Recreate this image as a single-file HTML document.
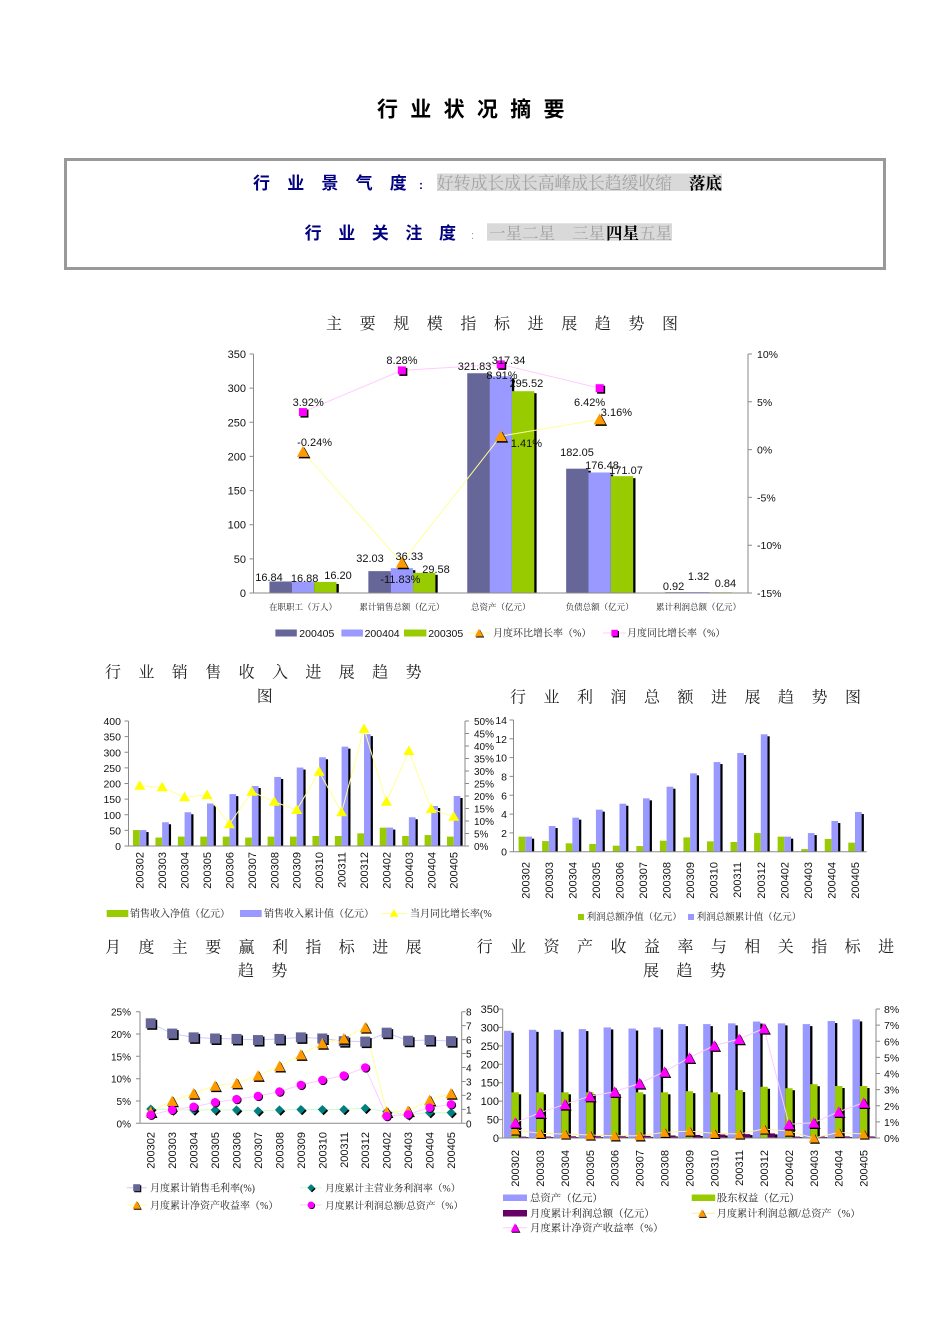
<!DOCTYPE html>
<html><head><meta charset="utf-8"><style>
html,body{margin:0;padding:0;background:#fff}
svg{display:block}
.n{font-family:"Liberation Sans",Arial,sans-serif;fill:#111}
.c{font-family:"Liberation Serif","Noto Serif CJK SC",serif;fill:#222}
.t{font-family:"Liberation Serif","Noto Serif CJK SC",serif;fill:#222;font-size:16px}
.ax{stroke:#8a8a8a;stroke-width:1;fill:none}
.k{fill:#000}.g{fill:#99CC00}.b{fill:#9999FF}.d{fill:#666699}.p{fill:#660066}
</style></head><body>
<svg width="950" height="1344" viewBox="0 0 950 1344" xmlns="http://www.w3.org/2000/svg">
<defs>
<g id="tO"><polygon points="1.5,-4.5 -4.5,6.5 7.5,6.5" fill="#000"/><polygon points="0,-6 -6,5 6,5" fill="#FF9900"/></g>
<g id="sM"><rect x="-2.5" y="-2.5" width="8" height="8" fill="#000"/><rect x="-4" y="-4" width="8" height="8" fill="#FF00FF"/></g>
<g id="tY"><polygon points="0,-5.5 -5.5,4 5.5,4" fill="#FFFF00"/></g>
<g id="sD"><rect x="-3.5" y="-3.5" width="10" height="10" fill="#000"/><rect x="-5" y="-5" width="10" height="10" fill="#666699"/></g>
<g id="dT"><polygon points="1.3,-3.2 5.8,1.3 1.3,5.8 -3.2,1.3" fill="#000"/><polygon points="0,-4.5 4.5,0 0,4.5 -4.5,0" fill="#008080"/></g>
<g id="tO2"><polygon points="1.3,-4.2 -4.2,6.3 6.8,6.3" fill="#000"/><polygon points="0,-5.5 -5.5,5 5.5,5" fill="#FF9900"/></g>
<g id="cM"><circle cx="0.8" cy="0.8" r="4.3" fill="#000"/><circle r="4.3" fill="#FF00FF"/></g>
<g id="tM"><polygon points="1.3,-4.2 -4.2,6.3 6.8,6.3" fill="#000"/><polygon points="0,-5.5 -5.5,5 5.5,5" fill="#FF00FF"/></g>
<g id="tO3"><polygon points="1.2,-3.8 -3.8,5.7 6.2,5.7" fill="#000"/><polygon points="0,-5 -5,4.5 5,4.5" fill="#FF9900"/></g>
</defs>

<!-- Header -->
<text x="377" y="116.5" font-family="'Noto Sans CJK SC',sans-serif" font-weight="700" font-size="21" letter-spacing="12.3" fill="#000">行业状况摘要</text>
<rect x="65.5" y="159.5" width="819" height="109" fill="none" stroke="#999" stroke-width="3"/>
<text x="253" y="189" font-family="'Noto Sans CJK SC',sans-serif" font-weight="700" font-size="17" letter-spacing="17.2" fill="#000080">行业景气度</text>
<text x="419" y="189" font-family="'Liberation Sans',sans-serif" font-weight="700" font-size="12" fill="#000080">:</text>
<rect x="437" y="173.5" width="285" height="17.5" fill="#d9d9d9"/>
<text x="437" y="189" font-family="'Liberation Serif','Noto Serif CJK SC',serif" font-size="16.8" fill="#a3a3a3">好转成长成长高峰成长趋缓收缩</text>
<text x="689" y="189" font-family="'Liberation Serif','Noto Serif CJK SC',serif" font-weight="700" font-size="16.5" fill="#000">落底</text>
<text x="304.6" y="239" font-family="'Noto Sans CJK SC',sans-serif" font-weight="700" font-size="17" letter-spacing="16.6" fill="#000080">行业关注度</text>
<text x="471" y="239" font-family="'Liberation Sans',sans-serif" font-size="11" fill="#999">:</text>
<rect x="487" y="223.3" width="185" height="17.4" fill="#d9d9d9"/>
<text x="489" y="239" font-family="'Liberation Serif','Noto Serif CJK SC',serif" font-size="16.5" fill="#a3a3a3">一星二星</text>
<text x="572" y="239" font-family="'Liberation Serif','Noto Serif CJK SC',serif" font-size="16.5" fill="#a3a3a3">三星</text>
<text x="606" y="239" font-family="'Liberation Serif','Noto Serif CJK SC',serif" font-weight="700" font-size="16.5" fill="#000">四星</text>
<text x="639" y="239" font-family="'Liberation Serif','Noto Serif CJK SC',serif" font-size="16.5" fill="#a3a3a3">五星</text>

<!-- ============ MAIN CHART ============ -->
<text x="326" y="329" class="t" letter-spacing="17.6">主要规模指标进展趋势图</text>
<g>
<rect class="k" x="271.75" y="583.5" width="22.35" height="9.5"/><rect class="d" x="269.45" y="581.5" width="22.35" height="11.5"/>
<rect class="k" x="294.1" y="583.47" width="22.35" height="9.53"/><rect class="b" x="291.8" y="581.47" width="22.35" height="11.53"/>
<rect class="k" x="316.45" y="583.94" width="22.35" height="9.06"/><rect class="g" x="314.15" y="581.94" width="22.35" height="11.06"/>
<rect class="k" x="370.65" y="573.13" width="22.35" height="19.87"/><rect class="d" x="368.35" y="571.13" width="22.35" height="21.87"/>
<rect class="k" x="393" y="570.19" width="22.35" height="22.81"/><rect class="b" x="390.7" y="568.19" width="22.35" height="24.81"/>
<rect class="k" x="415.35" y="574.8" width="22.35" height="18.2"/><rect class="g" x="413.05" y="572.8" width="22.35" height="20.2"/>
<rect class="k" x="469.55" y="375.22" width="22.35" height="217.78"/><rect class="d" x="467.25" y="373.22" width="22.35" height="219.78"/>
<rect class="k" x="491.9" y="378.29" width="22.35" height="214.71"/><rect class="b" x="489.6" y="376.29" width="22.35" height="216.71"/>
<rect class="k" x="514.25" y="393.19" width="22.35" height="199.81"/><rect class="g" x="511.95" y="391.19" width="22.35" height="201.81"/>
<rect class="k" x="568.45" y="470.68" width="22.35" height="122.32"/><rect class="d" x="566.15" y="468.68" width="22.35" height="124.32"/>
<rect class="k" x="590.8" y="474.48" width="22.35" height="118.52"/><rect class="b" x="588.5" y="472.48" width="22.35" height="120.52"/>
<rect class="k" x="613.15" y="478.17" width="22.35" height="114.83"/><rect class="g" x="610.85" y="476.17" width="22.35" height="116.83"/>
<rect class="d" x="665.05" y="592.2" width="22.35" height="0.8"/>
<rect class="b" x="687.4" y="592" width="22.35" height="1"/>
<rect class="g" x="709.75" y="592.3" width="22.35" height="0.7"/>
</g>
<path class="ax" d="M253.5,354V593H748M748,354V593M249.5,354H253.5M249.5,388.1H253.5M249.5,422.3H253.5M249.5,456.4H253.5M249.5,490.6H253.5M249.5,524.7H253.5M249.5,558.9H253.5M249.5,593H253.5M748,354H752M748,401.8H752M748,449.6H752M748,497.4H752M748,545.2H752M748,593H752"/>
<polyline points="302.95,412.1 401.85,370.4 500.75,364.4 599.65,388.2" fill="none" stroke="#FFCCFF" stroke-width="1"/>
<polyline points="302.95,451.9 401.85,562.7 500.75,436.1 599.65,419.4" fill="none" stroke="#FFFF99" stroke-width="1"/>
<use href="#sM" x="302.95" y="412.1"/><use href="#sM" x="401.85" y="370.4"/><use href="#sM" x="500.75" y="364.4"/><use href="#sM" x="599.65" y="388.2"/>
<use href="#tO" x="302.95" y="451.9"/><use href="#tO" x="401.85" y="562.7"/><use href="#tO" x="500.75" y="436.1"/><use href="#tO" x="599.65" y="419.4"/>
<g class="n" font-size="11" text-anchor="end">
<text x="246" y="358">350</text><text x="246" y="392.1">300</text><text x="246" y="426.3">250</text><text x="246" y="460.4">200</text><text x="246" y="494.6">150</text><text x="246" y="528.7">100</text><text x="246" y="562.9">50</text><text x="246" y="597">0</text>
</g>
<g class="n" font-size="10.5">
<text x="757" y="358">10%</text><text x="757" y="405.8">5%</text><text x="757" y="453.6">0%</text><text x="757" y="501.4">-5%</text><text x="757" y="549.2">-10%</text><text x="757" y="597">-15%</text>
</g>
<g class="n" font-size="11" text-anchor="middle">
<text x="269" y="581">16.84</text><text x="304.6" y="582">16.88</text><text x="338" y="579">16.20</text>
<text x="370" y="562">32.03</text><text x="409.3" y="560">36.33</text><text x="436" y="573">29.58</text><text x="400.4" y="583">-11.83%</text>
<text x="474.6" y="370">321.83</text><text x="508.6" y="364">317.34</text><text x="502" y="379">8.91%</text><text x="526.4" y="387">295.52</text><text x="526.4" y="447">1.41%</text>
<text x="577" y="456">182.05</text><text x="602" y="469">176.48</text><text x="626" y="474">171.07</text><text x="589.6" y="406">6.42%</text><text x="616.4" y="416">3.16%</text>
<text x="673.6" y="590">0.92</text><text x="698.6" y="580">1.32</text><text x="725.4" y="587">0.84</text>
<text x="308.2" y="406">3.92%</text><text x="314.6" y="446">-0.24%</text><text x="402" y="364">8.28%</text>
</g>
<g class="c" font-size="8.5" text-anchor="middle" fill="#333">
<text x="302.95" y="610">在职职工（万人）</text><text x="401.85" y="610">累计销售总额（亿元）</text><text x="500.75" y="610">总资产（亿元）</text><text x="599.65" y="610">负债总额（亿元）</text><text x="698.55" y="610">累计利润总额（亿元）</text>
</g>
<rect class="d" x="275.4" y="629.5" width="21.4" height="7"/><text class="n" x="299.3" y="637" font-size="10.5">200405</text>
<rect class="b" x="341.4" y="629.5" width="21.5" height="7"/><text class="n" x="364.6" y="637" font-size="10.5">200404</text>
<rect class="g" x="404" y="629.5" width="22.4" height="7"/><text class="n" x="428.2" y="637" font-size="10.5">200305</text>
<line x1="468" y1="633" x2="490" y2="633" stroke="#FFFF99"/><use href="#tO" transform="translate(479,633) scale(0.7)"/>
<text class="c" x="493" y="636.5" font-size="10">月度环比增长率（%）</text>
<line x1="603" y1="633" x2="626" y2="633" stroke="#FFCCFF"/><use href="#sM" transform="translate(614.6,633) scale(0.8)"/>
<text class="c" x="627" y="636.5" font-size="10">月度同比增长率（%）</text>

<!-- ============ SALES CHART ============ -->
<text x="105" y="677.5" class="t" letter-spacing="17.4">行业销售收入进展趋势</text>
<text x="256.7" y="701.5" class="t">图</text>
<g>
<rect class="g" x="133.02" y="830.06" width="6.7" height="15.94"/><rect class="k" x="141.92" y="832.06" width="6.7" height="13.94"/><rect class="b" x="139.72" y="830.06" width="6.7" height="15.94"/>
<rect class="g" x="155.45" y="837.56" width="6.7" height="8.44"/><rect class="k" x="164.35" y="824.25" width="6.7" height="21.75"/><rect class="b" x="162.15" y="822.25" width="6.7" height="23.75"/>
<rect class="g" x="177.88" y="836.62" width="6.7" height="9.38"/><rect class="k" x="186.78" y="814.25" width="6.7" height="31.75"/><rect class="b" x="184.58" y="812.25" width="6.7" height="33.75"/>
<rect class="g" x="200.31" y="836.62" width="6.7" height="9.38"/><rect class="k" x="209.21" y="805.5" width="6.7" height="40.5"/><rect class="b" x="207.01" y="803.5" width="6.7" height="42.5"/>
<rect class="g" x="222.74" y="836.62" width="6.7" height="9.38"/><rect class="k" x="231.64" y="796.12" width="6.7" height="49.88"/><rect class="b" x="229.44" y="794.12" width="6.7" height="51.88"/>
<rect class="g" x="245.17" y="837.56" width="6.7" height="8.44"/><rect class="k" x="254.07" y="788" width="6.7" height="58"/><rect class="b" x="251.87" y="786" width="6.7" height="60"/>
<rect class="g" x="267.6" y="836.62" width="6.7" height="9.38"/><rect class="k" x="276.5" y="778.94" width="6.7" height="67.06"/><rect class="b" x="274.3" y="776.94" width="6.7" height="69.06"/>
<rect class="g" x="290.02" y="836.62" width="6.7" height="9.38"/><rect class="k" x="298.92" y="769.56" width="6.7" height="76.44"/><rect class="b" x="296.72" y="767.56" width="6.7" height="78.44"/>
<rect class="g" x="312.45" y="836" width="6.7" height="10"/><rect class="k" x="321.35" y="759.25" width="6.7" height="86.75"/><rect class="b" x="319.15" y="757.25" width="6.7" height="88.75"/>
<rect class="g" x="334.88" y="836" width="6.7" height="10"/><rect class="k" x="343.78" y="748.62" width="6.7" height="97.38"/><rect class="b" x="341.58" y="746.62" width="6.7" height="99.38"/>
<rect class="g" x="357.31" y="833.34" width="6.7" height="12.66"/><rect class="k" x="366.21" y="736.12" width="6.7" height="109.88"/><rect class="b" x="364.01" y="734.12" width="6.7" height="111.88"/>
<rect class="g" x="379.74" y="827.66" width="6.7" height="18.34"/><rect class="k" x="388.64" y="829.56" width="6.7" height="16.44"/><rect class="b" x="386.44" y="827.56" width="6.7" height="18.44"/>
<rect class="g" x="402.17" y="836" width="6.7" height="10"/><rect class="k" x="411.07" y="819.25" width="6.7" height="26.75"/><rect class="b" x="408.87" y="817.25" width="6.7" height="28.75"/>
<rect class="g" x="424.6" y="835.06" width="6.7" height="10.94"/><rect class="k" x="433.5" y="808" width="6.7" height="38"/><rect class="b" x="431.3" y="806" width="6.7" height="40"/>
<rect class="g" x="447.02" y="836.62" width="6.7" height="9.38"/><rect class="k" x="455.92" y="798" width="6.7" height="48"/><rect class="b" x="453.72" y="796" width="6.7" height="50"/>
</g>
<path class="ax" d="M128.5,721V846H465M465,721V846M124.5,721H128.5M124.5,736.6H128.5M124.5,752.25H128.5M124.5,767.9H128.5M124.5,783.5H128.5M124.5,799.1H128.5M124.5,814.75H128.5M124.5,830.4H128.5M124.5,846H128.5M465,721H469M465,733.5H469M465,746H469M465,758.5H469M465,771H469M465,783.5H469M465,796H469M465,808.5H469M465,821H469M465,833.5H469M465,846H469"/>
<polyline points="139.72,785.75 162.15,787.25 184.58,797.25 207.01,795 229.44,824.25 251.87,791.75 274.3,801.75 296.72,810 319.15,771.75 341.58,812.25 364.01,729 386.44,801.75 408.87,751 431.3,809 453.72,816.75" fill="none" stroke="#FFFF99" stroke-width="1"/>
<use href="#tY" x="139.72" y="785.75"/><use href="#tY" x="162.15" y="787.25"/><use href="#tY" x="184.58" y="797.25"/><use href="#tY" x="207.01" y="795"/><use href="#tY" x="229.44" y="824.25"/><use href="#tY" x="251.87" y="791.75"/><use href="#tY" x="274.3" y="801.75"/><use href="#tY" x="296.72" y="810"/><use href="#tY" x="319.15" y="771.75"/><use href="#tY" x="341.58" y="812.25"/><use href="#tY" x="364.01" y="729"/><use href="#tY" x="386.44" y="801.75"/><use href="#tY" x="408.87" y="751"/><use href="#tY" x="431.3" y="809"/><use href="#tY" x="453.72" y="816.75"/>
<g class="n" font-size="10.5" text-anchor="end">
<text x="121" y="725">400</text><text x="121" y="740.6">350</text><text x="121" y="756.25">300</text><text x="121" y="771.9">250</text><text x="121" y="787.5">200</text><text x="121" y="803.1">150</text><text x="121" y="818.75">100</text><text x="121" y="834.4">50</text><text x="121" y="850">0</text>
</g>
<g class="n" font-size="10">
<text x="474" y="725">50%</text><text x="474" y="737.5">45%</text><text x="474" y="750">40%</text><text x="474" y="762.5">35%</text><text x="474" y="775">30%</text><text x="474" y="787.5">25%</text><text x="474" y="800">20%</text><text x="474" y="812.5">15%</text><text x="474" y="825">10%</text><text x="474" y="837.5">5%</text><text x="474" y="850">0%</text>
</g>
<g class="n" font-size="11" text-anchor="end">
<text transform="translate(143.72,852) rotate(-90)">200302</text><text transform="translate(166.15,852) rotate(-90)">200303</text><text transform="translate(188.58,852) rotate(-90)">200304</text><text transform="translate(211.01,852) rotate(-90)">200305</text><text transform="translate(233.44,852) rotate(-90)">200306</text><text transform="translate(255.87,852) rotate(-90)">200307</text><text transform="translate(278.3,852) rotate(-90)">200308</text><text transform="translate(300.72,852) rotate(-90)">200309</text><text transform="translate(323.15,852) rotate(-90)">200310</text><text transform="translate(345.58,852) rotate(-90)">200311</text><text transform="translate(368.01,852) rotate(-90)">200312</text><text transform="translate(390.44,852) rotate(-90)">200402</text><text transform="translate(412.87,852) rotate(-90)">200403</text><text transform="translate(435.3,852) rotate(-90)">200404</text><text transform="translate(457.72,852) rotate(-90)">200405</text>
</g>
<rect class="g" x="106.7" y="910" width="21.6" height="7"/><text class="c" x="130" y="917" font-size="10">销售收入净值（亿元）</text>
<rect class="b" x="240" y="910" width="21.7" height="7"/><text class="c" x="264" y="917" font-size="10">销售收入累计值（亿元）</text>
<line x1="381.7" y1="913.5" x2="406.7" y2="913.5" stroke="#FFFF99"/><use href="#tY" transform="translate(394,913.5) scale(0.8)"/>
<text class="c" x="410" y="917" font-size="10">当月同比增长率(%</text>

<!-- ============ PROFIT CHART ============ -->
<text x="510" y="702.5" class="t" letter-spacing="17.5">行业利润总额进展趋势图</text>
<g>
<rect class="g" x="518.58" y="836.65" width="6.7" height="15.05"/><rect class="k" x="527.48" y="838.65" width="6.7" height="13.05"/><rect class="b" x="525.28" y="836.65" width="6.7" height="15.05"/>
<rect class="g" x="542.13" y="841.07" width="6.7" height="10.63"/><rect class="k" x="551.03" y="828.02" width="6.7" height="23.68"/><rect class="b" x="548.83" y="826.02" width="6.7" height="25.68"/>
<rect class="g" x="565.68" y="843.33" width="6.7" height="8.37"/><rect class="k" x="574.58" y="819.65" width="6.7" height="32.05"/><rect class="b" x="572.38" y="817.65" width="6.7" height="34.05"/>
<rect class="g" x="589.23" y="843.99" width="6.7" height="7.71"/><rect class="k" x="598.13" y="811.65" width="6.7" height="40.05"/><rect class="b" x="595.93" y="809.65" width="6.7" height="42.05"/>
<rect class="g" x="612.78" y="845.68" width="6.7" height="6.02"/><rect class="k" x="621.68" y="805.72" width="6.7" height="45.98"/><rect class="b" x="619.48" y="803.72" width="6.7" height="47.98"/>
<rect class="g" x="636.33" y="846.06" width="6.7" height="5.64"/><rect class="k" x="645.23" y="800.36" width="6.7" height="51.34"/><rect class="b" x="643.03" y="798.36" width="6.7" height="53.34"/>
<rect class="g" x="659.88" y="840.69" width="6.7" height="11.01"/><rect class="k" x="668.78" y="788.7" width="6.7" height="63"/><rect class="b" x="666.58" y="786.7" width="6.7" height="65"/>
<rect class="g" x="683.43" y="837.4" width="6.7" height="14.3"/><rect class="k" x="692.33" y="775.34" width="6.7" height="76.36"/><rect class="b" x="690.13" y="773.34" width="6.7" height="78.36"/>
<rect class="g" x="706.98" y="841.35" width="6.7" height="10.35"/><rect class="k" x="715.88" y="764.05" width="6.7" height="87.65"/><rect class="b" x="713.68" y="762.05" width="6.7" height="89.65"/>
<rect class="g" x="730.53" y="842.01" width="6.7" height="9.69"/><rect class="k" x="739.43" y="755.02" width="6.7" height="96.68"/><rect class="b" x="737.23" y="753.02" width="6.7" height="98.68"/>
<rect class="g" x="754.08" y="833.07" width="6.7" height="18.63"/><rect class="k" x="762.98" y="736.3" width="6.7" height="115.4"/><rect class="b" x="760.78" y="734.3" width="6.7" height="117.4"/>
<rect class="g" x="777.63" y="836.65" width="6.7" height="15.05"/><rect class="k" x="786.53" y="838.65" width="6.7" height="13.05"/><rect class="b" x="784.33" y="836.65" width="6.7" height="15.05"/>
<rect class="g" x="801.18" y="849.07" width="6.7" height="2.63"/><rect class="k" x="810.08" y="835.07" width="6.7" height="16.63"/><rect class="b" x="807.88" y="833.07" width="6.7" height="18.63"/>
<rect class="g" x="824.73" y="839" width="6.7" height="12.7"/><rect class="k" x="833.63" y="823.03" width="6.7" height="28.67"/><rect class="b" x="831.43" y="821.03" width="6.7" height="30.67"/>
<rect class="g" x="848.28" y="842.67" width="6.7" height="9.03"/><rect class="k" x="857.18" y="814" width="6.7" height="37.7"/><rect class="b" x="854.98" y="812" width="6.7" height="39.7"/>
</g>
<path class="ax" d="M513.5,720V851.7H866.7M509.5,720H513.5M509.5,738.8H513.5M509.5,757.6H513.5M509.5,776.4H513.5M509.5,795.3H513.5M509.5,814.1H513.5M509.5,832.9H513.5M509.5,851.7H513.5"/>
<g class="n" font-size="10.5" text-anchor="end">
<text x="507" y="724">14</text><text x="507" y="742.8">12</text><text x="507" y="761.6">10</text><text x="507" y="780.4">8</text><text x="507" y="799.3">6</text><text x="507" y="818.1">4</text><text x="507" y="836.9">2</text><text x="507" y="855.7">0</text>
</g>
<g class="n" font-size="11" text-anchor="end">
<text transform="translate(529.28,862) rotate(-90)">200302</text><text transform="translate(552.83,862) rotate(-90)">200303</text><text transform="translate(576.38,862) rotate(-90)">200304</text><text transform="translate(599.93,862) rotate(-90)">200305</text><text transform="translate(623.48,862) rotate(-90)">200306</text><text transform="translate(647.03,862) rotate(-90)">200307</text><text transform="translate(670.58,862) rotate(-90)">200308</text><text transform="translate(694.13,862) rotate(-90)">200309</text><text transform="translate(717.68,862) rotate(-90)">200310</text><text transform="translate(741.23,862) rotate(-90)">200311</text><text transform="translate(764.78,862) rotate(-90)">200312</text><text transform="translate(788.33,862) rotate(-90)">200402</text><text transform="translate(811.88,862) rotate(-90)">200403</text><text transform="translate(835.43,862) rotate(-90)">200404</text><text transform="translate(858.98,862) rotate(-90)">200405</text>
</g>
<rect class="g" x="578" y="914" width="6" height="6"/><text class="c" x="586.7" y="920" font-size="9.5">利润总额净值（亿元）</text>
<rect class="b" x="688" y="914" width="6" height="6"/><text class="c" x="696.7" y="920" font-size="9.5">利润总额累计值（亿元）</text>

<!-- ============ BOTTOM-LEFT CHART ============ -->
<text x="105" y="952.5" class="t" letter-spacing="17.4">月度主要赢利指标进展</text>
<text x="238" y="976" class="t" letter-spacing="17.3">趋势</text>
<path class="ax" d="M140,1011.7V1123.3H461.7M461.7,1011.7V1123.3M136,1011.7H140M136,1034H140M136,1056.3H140M136,1078.7H140M136,1101H140M136,1123.3H140M461.7,1011.7H465.7M461.7,1025.65H465.7M461.7,1039.6H465.7M461.7,1053.55H465.7M461.7,1067.5H465.7M461.7,1081.45H465.7M461.7,1095.4H465.7M461.7,1109.35H465.7M461.7,1123.3H465.7"/>
<polyline points="150.73,1023.31 172.18,1033.57 193.63,1037.37 215.08,1038.48 236.53,1038.93 257.98,1040.05 279.43,1038.93 300.88,1037.37 322.33,1038.48 343.78,1041.16 365.23,1041.61 386.68,1032.68 408.13,1040.72 429.58,1040.05 451.03,1041.16" fill="none" stroke="#CCCCFF"/>
<polyline points="150.73,1109.01 172.18,1109.91 193.63,1109.91 215.08,1109.91 236.53,1109.91 257.98,1110.98 279.43,1109.91 300.88,1109.46 322.33,1109.46 343.78,1109.46 365.23,1108.3 386.68,1111.69 408.13,1114.82 429.58,1112.59 451.03,1112.59" fill="none" stroke="#CCFFCC"/>
<polyline points="150.73,1111.69 172.18,1100.98 193.63,1093.39 215.08,1085.8 236.53,1083.12 257.98,1075.54 279.43,1066.16 300.88,1054.55 322.33,1043.39 343.78,1038.48 365.23,1027.32 386.68,1111.69 408.13,1110.8 429.58,1100.09 451.03,1093.39" fill="none" stroke="#FFFF99"/>
<polyline points="150.73,1114.82 172.18,1109.91 193.63,1106.78 215.08,1102.32 236.53,1099.19 257.98,1096.07 279.43,1091.61 300.88,1084.91 322.33,1080 343.78,1075.54 365.23,1067.5 386.68,1116.16 408.13,1114.37 429.58,1107.68 451.03,1104.33" fill="none" stroke="#FFCCFF"/>
<use href="#sD" x="150.73" y="1023.31"/><use href="#sD" x="172.18" y="1033.57"/><use href="#sD" x="193.63" y="1037.37"/><use href="#sD" x="215.08" y="1038.48"/><use href="#sD" x="236.53" y="1038.93"/><use href="#sD" x="257.98" y="1040.05"/><use href="#sD" x="279.43" y="1038.93"/><use href="#sD" x="300.88" y="1037.37"/><use href="#sD" x="322.33" y="1038.48"/><use href="#sD" x="343.78" y="1041.16"/><use href="#sD" x="365.23" y="1041.61"/><use href="#sD" x="386.68" y="1032.68"/><use href="#sD" x="408.13" y="1040.72"/><use href="#sD" x="429.58" y="1040.05"/><use href="#sD" x="451.03" y="1041.16"/>
<use href="#dT" x="150.73" y="1109.01"/><use href="#dT" x="172.18" y="1109.91"/><use href="#dT" x="193.63" y="1109.91"/><use href="#dT" x="215.08" y="1109.91"/><use href="#dT" x="236.53" y="1109.91"/><use href="#dT" x="257.98" y="1110.98"/><use href="#dT" x="279.43" y="1109.91"/><use href="#dT" x="300.88" y="1109.46"/><use href="#dT" x="322.33" y="1109.46"/><use href="#dT" x="343.78" y="1109.46"/><use href="#dT" x="365.23" y="1108.3"/><use href="#dT" x="386.68" y="1111.69"/><use href="#dT" x="408.13" y="1114.82"/><use href="#dT" x="429.58" y="1112.59"/><use href="#dT" x="451.03" y="1112.59"/>
<use href="#tO2" x="150.73" y="1111.69"/><use href="#tO2" x="172.18" y="1100.98"/><use href="#tO2" x="193.63" y="1093.39"/><use href="#tO2" x="215.08" y="1085.8"/><use href="#tO2" x="236.53" y="1083.12"/><use href="#tO2" x="257.98" y="1075.54"/><use href="#tO2" x="279.43" y="1066.16"/><use href="#tO2" x="300.88" y="1054.55"/><use href="#tO2" x="322.33" y="1043.39"/><use href="#tO2" x="343.78" y="1038.48"/><use href="#tO2" x="365.23" y="1027.32"/><use href="#tO2" x="386.68" y="1111.69"/><use href="#tO2" x="408.13" y="1110.8"/><use href="#tO2" x="429.58" y="1100.09"/><use href="#tO2" x="451.03" y="1093.39"/>
<use href="#cM" x="150.73" y="1114.82"/><use href="#cM" x="172.18" y="1109.91"/><use href="#cM" x="193.63" y="1106.78"/><use href="#cM" x="215.08" y="1102.32"/><use href="#cM" x="236.53" y="1099.19"/><use href="#cM" x="257.98" y="1096.07"/><use href="#cM" x="279.43" y="1091.61"/><use href="#cM" x="300.88" y="1084.91"/><use href="#cM" x="322.33" y="1080"/><use href="#cM" x="343.78" y="1075.54"/><use href="#cM" x="365.23" y="1067.5"/><use href="#cM" x="386.68" y="1116.16"/><use href="#cM" x="408.13" y="1114.37"/><use href="#cM" x="429.58" y="1107.68"/><use href="#cM" x="451.03" y="1104.33"/>
<g class="n" font-size="10" text-anchor="end">
<text x="131" y="1015.7">25%</text><text x="131" y="1038">20%</text><text x="131" y="1060.3">15%</text><text x="131" y="1082.7">10%</text><text x="131" y="1105">5%</text><text x="131" y="1127.3">0%</text>
</g>
<g class="n" font-size="10">
<text x="466" y="1015.7">8</text><text x="466" y="1029.65">7</text><text x="466" y="1043.6">6</text><text x="466" y="1057.55">5</text><text x="466" y="1071.5">4</text><text x="466" y="1085.45">3</text><text x="466" y="1099.4">2</text><text x="466" y="1113.35">1</text><text x="466" y="1127.3">0</text>
</g>
<g class="n" font-size="11" text-anchor="end">
<text transform="translate(154.73,1132) rotate(-90)">200302</text><text transform="translate(176.18,1132) rotate(-90)">200303</text><text transform="translate(197.63,1132) rotate(-90)">200304</text><text transform="translate(219.08,1132) rotate(-90)">200305</text><text transform="translate(240.53,1132) rotate(-90)">200306</text><text transform="translate(261.98,1132) rotate(-90)">200307</text><text transform="translate(283.43,1132) rotate(-90)">200308</text><text transform="translate(304.88,1132) rotate(-90)">200309</text><text transform="translate(326.33,1132) rotate(-90)">200310</text><text transform="translate(347.78,1132) rotate(-90)">200311</text><text transform="translate(369.23,1132) rotate(-90)">200312</text><text transform="translate(390.68,1132) rotate(-90)">200402</text><text transform="translate(412.13,1132) rotate(-90)">200403</text><text transform="translate(433.58,1132) rotate(-90)">200404</text><text transform="translate(455.03,1132) rotate(-90)">200405</text>
</g>
<line x1="126.7" y1="1187.7" x2="146.7" y2="1187.7" stroke="#CCCCFF"/><use href="#sD" transform="translate(136.7,1187.7) scale(0.7)"/>
<text class="c" x="150" y="1191.5" font-size="10">月度累计销售毛利率(%)</text>
<line x1="300" y1="1187.7" x2="321.7" y2="1187.7" stroke="#CCFFCC"/><use href="#dT" transform="translate(311,1187.7) scale(0.8)"/>
<text class="c" x="325" y="1191.5" font-size="9.8">月度累计主营业务利润率（%）</text>
<line x1="126.7" y1="1205" x2="146.7" y2="1205" stroke="#FFFF99"/><use href="#tO2" transform="translate(136.7,1205) scale(0.75)"/>
<text class="c" x="150" y="1209" font-size="10">月度累计净资产收益率（%）</text>
<line x1="300" y1="1205" x2="321.7" y2="1205" stroke="#FFCCFF"/><use href="#cM" transform="translate(311,1205) scale(0.8)"/>
<text class="c" x="325" y="1209" font-size="9.8">月度累计利润总额/总资产（%）</text>

<!-- ============ BOTTOM-RIGHT CHART ============ -->
<text x="476.7" y="952" class="t" letter-spacing="17.45">行业资产收益率与相关指标进</text>
<text x="643" y="976" class="t" letter-spacing="17.5">展趋势</text>
<g>
<rect class="k" x="506.35" y="1032.75" width="7.4" height="105.25"/><rect class="b" x="504.05" y="1030.75" width="7.4" height="107.25"/><rect class="k" x="513.75" y="1094.3" width="7.4" height="43.7"/><rect class="g" x="511.45" y="1092.3" width="7.4" height="45.7"/><rect class="k" x="521.15" y="1137" width="7.4" height="1"/><rect class="p" x="518.85" y="1136.6" width="7.4" height="1.4"/>
<rect class="k" x="531.24" y="1031.82" width="7.4" height="106.18"/><rect class="b" x="528.94" y="1029.82" width="7.4" height="108.18"/><rect class="k" x="538.64" y="1094.3" width="7.4" height="43.7"/><rect class="g" x="536.34" y="1092.3" width="7.4" height="45.7"/><rect class="k" x="546.04" y="1137" width="7.4" height="1"/><rect class="p" x="543.74" y="1136.5" width="7.4" height="1.5"/>
<rect class="k" x="556.13" y="1031.82" width="7.4" height="106.18"/><rect class="b" x="553.83" y="1029.82" width="7.4" height="108.18"/><rect class="k" x="563.53" y="1094.3" width="7.4" height="43.7"/><rect class="g" x="561.23" y="1092.3" width="7.4" height="45.7"/><rect class="k" x="570.93" y="1137" width="7.4" height="1"/><rect class="p" x="568.63" y="1136.3" width="7.4" height="1.7"/>
<rect class="k" x="581.02" y="1031.09" width="7.4" height="106.91"/><rect class="b" x="578.72" y="1029.09" width="7.4" height="108.91"/><rect class="k" x="588.42" y="1094.3" width="7.4" height="43.7"/><rect class="g" x="586.12" y="1092.3" width="7.4" height="45.7"/><rect class="k" x="595.82" y="1137" width="7.4" height="1"/><rect class="p" x="593.52" y="1136.2" width="7.4" height="1.8"/>
<rect class="k" x="605.91" y="1029.43" width="7.4" height="108.57"/><rect class="b" x="603.61" y="1027.43" width="7.4" height="110.57"/><rect class="k" x="613.31" y="1094.3" width="7.4" height="43.7"/><rect class="g" x="611.01" y="1092.3" width="7.4" height="45.7"/><rect class="k" x="620.71" y="1136.9" width="7.4" height="1.1"/><rect class="p" x="618.41" y="1136.1" width="7.4" height="1.9"/>
<rect class="k" x="630.8" y="1030.53" width="7.4" height="107.47"/><rect class="b" x="628.5" y="1028.53" width="7.4" height="109.47"/><rect class="k" x="638.2" y="1094.3" width="7.4" height="43.7"/><rect class="g" x="635.9" y="1092.3" width="7.4" height="45.7"/><rect class="k" x="645.6" y="1136.9" width="7.4" height="1.1"/><rect class="p" x="643.3" y="1135.9" width="7.4" height="2.1"/>
<rect class="k" x="655.69" y="1029.43" width="7.4" height="108.57"/><rect class="b" x="653.39" y="1027.43" width="7.4" height="110.57"/><rect class="k" x="663.09" y="1094.3" width="7.4" height="43.7"/><rect class="g" x="660.79" y="1092.3" width="7.4" height="45.7"/><rect class="k" x="670.49" y="1136.5" width="7.4" height="1.5"/><rect class="p" x="668.19" y="1135.46" width="7.4" height="2.54"/>
<rect class="k" x="680.58" y="1026.11" width="7.4" height="111.89"/><rect class="b" x="678.28" y="1024.11" width="7.4" height="113.89"/><rect class="k" x="687.98" y="1093.19" width="7.4" height="44.81"/><rect class="g" x="685.68" y="1091.19" width="7.4" height="46.81"/><rect class="k" x="695.38" y="1136" width="7.4" height="2"/><rect class="p" x="693.08" y="1134.94" width="7.4" height="3.06"/>
<rect class="k" x="705.47" y="1026.11" width="7.4" height="111.89"/><rect class="b" x="703.17" y="1024.11" width="7.4" height="113.89"/><rect class="k" x="712.87" y="1094.3" width="7.4" height="43.7"/><rect class="g" x="710.57" y="1092.3" width="7.4" height="45.7"/><rect class="k" x="720.27" y="1135.5" width="7.4" height="2.5"/><rect class="p" x="717.97" y="1134.5" width="7.4" height="3.5"/>
<rect class="k" x="730.36" y="1025.37" width="7.4" height="112.63"/><rect class="b" x="728.06" y="1023.37" width="7.4" height="114.63"/><rect class="k" x="737.76" y="1092.09" width="7.4" height="45.91"/><rect class="g" x="735.46" y="1090.09" width="7.4" height="47.91"/><rect class="k" x="745.16" y="1135.1" width="7.4" height="2.9"/><rect class="p" x="742.86" y="1134.13" width="7.4" height="3.87"/>
<rect class="k" x="755.25" y="1023.53" width="7.4" height="114.47"/><rect class="b" x="752.95" y="1021.53" width="7.4" height="116.47"/><rect class="k" x="762.65" y="1088.77" width="7.4" height="49.23"/><rect class="g" x="760.35" y="1086.77" width="7.4" height="51.23"/><rect class="k" x="770.05" y="1134.4" width="7.4" height="3.6"/><rect class="p" x="767.75" y="1133.39" width="7.4" height="4.61"/>
<rect class="k" x="780.14" y="1025.37" width="7.4" height="112.63"/><rect class="b" x="777.84" y="1023.37" width="7.4" height="114.63"/><rect class="k" x="787.54" y="1090.24" width="7.4" height="47.76"/><rect class="g" x="785.24" y="1088.24" width="7.4" height="49.76"/><rect class="k" x="794.94" y="1137" width="7.4" height="1"/><rect class="p" x="792.64" y="1136.6" width="7.4" height="1.4"/>
<rect class="k" x="805.03" y="1026.11" width="7.4" height="111.89"/><rect class="b" x="802.73" y="1024.11" width="7.4" height="113.89"/><rect class="k" x="812.43" y="1086.19" width="7.4" height="51.81"/><rect class="g" x="810.13" y="1084.19" width="7.4" height="53.81"/><rect class="k" x="819.83" y="1137" width="7.4" height="1"/><rect class="p" x="817.53" y="1136.5" width="7.4" height="1.5"/>
<rect class="k" x="829.92" y="1023.05" width="7.4" height="114.95"/><rect class="b" x="827.62" y="1021.05" width="7.4" height="116.95"/><rect class="k" x="837.32" y="1088.03" width="7.4" height="49.97"/><rect class="g" x="835.02" y="1086.03" width="7.4" height="51.97"/><rect class="k" x="844.72" y="1137" width="7.4" height="1"/><rect class="p" x="842.42" y="1136.4" width="7.4" height="1.6"/>
<rect class="k" x="854.81" y="1021.39" width="7.4" height="116.61"/><rect class="b" x="852.51" y="1019.39" width="7.4" height="118.61"/><rect class="k" x="862.21" y="1088.03" width="7.4" height="49.97"/><rect class="g" x="859.91" y="1086.03" width="7.4" height="51.97"/><rect class="k" x="869.61" y="1137" width="6.4" height="1"/><rect class="p" x="867.31" y="1136.45" width="7.4" height="1.55"/>
</g>
<path class="ax" d="M502.7,1009V1138H876M876,1009V1138M498.7,1009H502.7M498.7,1027.43H502.7M498.7,1045.86H502.7M498.7,1064.29H502.7M498.7,1082.71H502.7M498.7,1101.14H502.7M498.7,1119.57H502.7M498.7,1138H502.7M876,1009H880M876,1025.13H880M876,1041.25H880M876,1057.38H880M876,1073.5H880M876,1089.63H880M876,1105.75H880M876,1121.88H880M876,1138H880"/>
<polyline points="515.15,1122.68 540.04,1112.68 564.93,1104.3 589.82,1096.08 614.71,1091.72 639.6,1083.34 664.49,1071.73 689.38,1057.7 714.27,1045.6 739.16,1039 764.05,1028.35 788.94,1124.29 813.83,1122.68 838.72,1111.72 863.61,1102.69" fill="none" stroke="#FFCCFF"/>
<polyline points="515.15,1129.94 540.04,1133.32 564.93,1133.97 589.82,1134.94 614.71,1135.74 639.6,1135.74 664.49,1132.36 689.38,1131.07 714.27,1133.32 739.16,1133.97 764.05,1128.97 788.94,1131.07 813.83,1138 838.72,1132.36 863.61,1133.97" fill="none" stroke="#FFEE99"/>
<use href="#tO3" x="515.15" y="1129.94"/><use href="#tO3" x="540.04" y="1133.32"/><use href="#tO3" x="564.93" y="1133.97"/><use href="#tO3" x="589.82" y="1134.94"/><use href="#tO3" x="614.71" y="1135.74"/><use href="#tO3" x="639.6" y="1135.74"/><use href="#tO3" x="664.49" y="1132.36"/><use href="#tO3" x="689.38" y="1131.07"/><use href="#tO3" x="714.27" y="1133.32"/><use href="#tO3" x="739.16" y="1133.97"/><use href="#tO3" x="764.05" y="1128.97"/><use href="#tO3" x="788.94" y="1131.07"/><use href="#tO3" x="813.83" y="1138"/><use href="#tO3" x="838.72" y="1132.36"/><use href="#tO3" x="863.61" y="1133.97"/>
<use href="#tM" x="515.15" y="1122.68"/><use href="#tM" x="540.04" y="1112.68"/><use href="#tM" x="564.93" y="1104.3"/><use href="#tM" x="589.82" y="1096.08"/><use href="#tM" x="614.71" y="1091.72"/><use href="#tM" x="639.6" y="1083.34"/><use href="#tM" x="664.49" y="1071.73"/><use href="#tM" x="689.38" y="1057.7"/><use href="#tM" x="714.27" y="1045.6"/><use href="#tM" x="739.16" y="1039"/><use href="#tM" x="764.05" y="1028.35"/><use href="#tM" x="788.94" y="1124.29"/><use href="#tM" x="813.83" y="1122.68"/><use href="#tM" x="838.72" y="1111.72"/><use href="#tM" x="863.61" y="1102.69"/>
<g class="n" font-size="11" text-anchor="end">
<text x="499" y="1013">350</text><text x="499" y="1031.4">300</text><text x="499" y="1049.9">250</text><text x="499" y="1068.3">200</text><text x="499" y="1086.7">150</text><text x="499" y="1105.1">100</text><text x="499" y="1123.6">50</text><text x="499" y="1142">0</text>
</g>
<g class="n" font-size="10.5">
<text x="884" y="1013">8%</text><text x="884" y="1029.1">7%</text><text x="884" y="1045.25">6%</text><text x="884" y="1061.4">5%</text><text x="884" y="1077.5">4%</text><text x="884" y="1093.6">3%</text><text x="884" y="1109.75">2%</text><text x="884" y="1125.9">1%</text><text x="884" y="1142">0%</text>
</g>
<g class="n" font-size="11" text-anchor="end">
<text transform="translate(519.15,1150) rotate(-90)">200302</text><text transform="translate(544.04,1150) rotate(-90)">200303</text><text transform="translate(568.93,1150) rotate(-90)">200304</text><text transform="translate(593.82,1150) rotate(-90)">200305</text><text transform="translate(618.71,1150) rotate(-90)">200306</text><text transform="translate(643.6,1150) rotate(-90)">200307</text><text transform="translate(668.49,1150) rotate(-90)">200308</text><text transform="translate(693.38,1150) rotate(-90)">200309</text><text transform="translate(718.27,1150) rotate(-90)">200310</text><text transform="translate(743.16,1150) rotate(-90)">200311</text><text transform="translate(768.05,1150) rotate(-90)">200312</text><text transform="translate(792.94,1150) rotate(-90)">200402</text><text transform="translate(817.83,1150) rotate(-90)">200403</text><text transform="translate(842.72,1150) rotate(-90)">200404</text><text transform="translate(867.61,1150) rotate(-90)">200405</text>
</g>
<rect class="b" x="503" y="1194.5" width="24" height="6.5"/><text class="c" x="530" y="1201.5" font-size="10.4">总资产（亿元）</text>
<rect class="g" x="691.7" y="1194.5" width="23.5" height="6.5"/><text class="c" x="716.7" y="1201.5" font-size="10.4">股东权益（亿元）</text>
<rect class="p" x="503" y="1210" width="24" height="6.5"/><text class="c" x="530" y="1217" font-size="10.4">月度累计利润总额（亿元）</text>
<line x1="691.7" y1="1213.3" x2="715" y2="1213.3" stroke="#FFEE99"/><use href="#tO3" transform="translate(702,1213.3) scale(0.8)"/>
<text class="c" x="716.7" y="1217" font-size="10.2">月度累计利润总额/总资产（%）</text>
<line x1="503" y1="1227.7" x2="527" y2="1227.7" stroke="#FFCCFF"/><use href="#tM" transform="translate(515,1227.7) scale(0.8)"/>
<text class="c" x="530" y="1231.5" font-size="10.4">月度累计净资产收益率（%）</text>
</svg>
</body></html>
